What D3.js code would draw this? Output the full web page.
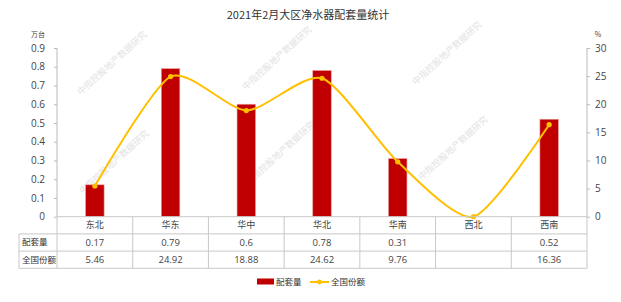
<!DOCTYPE html>
<html>
<head>
<meta charset="utf-8">
<script src="https://cdn.jsdelivr.net/npm/d3@7"></script>
<style>
  body { margin: 0; background: #fff; }
  text { font-family: "Noto Sans CJK SC", "Noto Sans", sans-serif; }
</style>
</head>
<body>
<div id="chart"></div>
<script>
// data
const regions = ["东北", "华东", "华中", "华北", "华南", "西北", "西南"];
const volume = [0.17, 0.79, 0.6, 0.78, 0.31, null, 0.52];   // 万台
const share = [5.46, 24.92, 18.88, 24.62, 9.76, 0, 16.36];   // %
const shareLabels = ["5.46", "24.92", "18.88", "24.62", "9.76", "", "16.36"];
const volumeLabels = ["0.17", "0.79", "0.6", "0.78", "0.31", "", "0.52"];
const leftTicks = [0, 0.1, 0.2, 0.3, 0.4, 0.5, 0.6, 0.7, 0.8, 0.9];
const rightTicks = [0, 5, 10, 15, 20, 25, 30];

const W = 621, H = 302;
const plot = {left: 57, right: 587, top: 48, bottom: 216.7};
const rowH = 17.2;

const svg = d3.select("#chart").append("svg")
  .attr("width", W).attr("height", H);

// scales
const x = d3.scaleBand().domain(regions).range([plot.left, plot.right]);
const yL = d3.scaleLinear().domain([0, 0.9]).range([plot.bottom, plot.top]);
const yR = d3.scaleLinear().domain([0, 30]).range([plot.bottom, plot.top]);

// watermarks
const marks = [[112, 63], [277, 58], [447, 53], [114, 162], [280, 153], [453, 148]];
svg.append("g").selectAll("text").data(marks).join("text")
  .attr("transform", d => `translate(${d[0]},${d[1]}) rotate(-42)`)
  .attr("text-anchor", "middle").attr("dy", "0.35em")
  .attr("font-size", 9).attr("fill", "#e2e2e2")
  .text("中指控股地产数据研究");

// title
svg.append("text")
  .attr("x", 308).attr("y", 19)
  .attr("text-anchor", "middle")
  .attr("font-size", 11).attr("fill", "#333")
  .text("2021年2月大区净水器配套量统计");

// left axis
const axisL = svg.append("g")
  .attr("transform", `translate(${plot.left},0)`)
  .call(d3.axisLeft(yL).tickValues(leftTicks).tickSize(3).tickFormat(d => d === 0 ? "0" : d3.format(".1f")(d)));
axisL.select(".domain").attr("stroke", "#bbb").attr("d", `M0,${plot.top}V${plot.bottom}`);
axisL.selectAll(".tick line").attr("stroke", "#bbb");
axisL.selectAll(".tick text").attr("font-size", 10).attr("fill", "#444").attr("x", -12)
  .style("font-family", "'Open Sans', sans-serif");

// right axis
const axisR = svg.append("g")
  .attr("transform", `translate(${plot.right},0)`)
  .call(d3.axisRight(yR).tickValues(rightTicks).tickSize(3));
axisR.select(".domain").attr("stroke", "#bbb").attr("d", `M0,${plot.top}V${plot.bottom}`);
axisR.selectAll(".tick line").attr("stroke", "#bbb");
axisR.selectAll(".tick text").attr("font-size", 10).attr("fill", "#444").attr("x", 8)
  .style("font-family", "'Open Sans', sans-serif");

// units
svg.append("text").attr("x", 38).attr("y", 37).attr("text-anchor", "middle")
  .attr("font-size", 7).attr("fill", "#444").text("万台");
svg.append("text").attr("x", 598).attr("y", 37).attr("text-anchor", "middle")
  .attr("font-size", 7).attr("fill", "#444").text("%");

// bars
const bw = 18.5;
svg.append("g").selectAll("rect")
  .data(regions.map((r, i) => ({r, v: volume[i]})).filter(d => d.v != null))
  .join("rect")
  .attr("x", d => x(d.r) + x.bandwidth() / 2 - bw / 2)
  .attr("y", d => yL(d.v))
  .attr("width", bw)
  .attr("height", d => yL(0) - yL(d.v))
  .attr("fill", "#C00000")
  .attr("stroke", "#e9a0a0").attr("stroke-width", 0.6);

// share line
const pts = regions.map((r, i) => [x(r) + x.bandwidth() / 2, yR(share[i])]);
svg.append("path")
  .datum(pts)
  .attr("d", d3.line().curve(d3.curveCardinal.tension(0.3)))
  .attr("fill", "none").attr("stroke", "#FFC000").attr("stroke-width", 2);
svg.append("g").selectAll("circle").data(pts).join("circle")
  .attr("cx", d => d[0]).attr("cy", d => d[1]).attr("r", 2.6)
  .attr("fill", "#FFC000");

// data table
const tbl = svg.append("g");
const tLeft = 19, tTop = plot.bottom;
const gridC = "#c8c8c8";
// horizontal lines
[tTop + rowH, tTop + rowH * 2, tTop + rowH * 3].forEach((yy, i) => {
  tbl.append("line")
    .attr("x1", i === 2 || i === 0 ? tLeft : tLeft).attr("x2", plot.right)
    .attr("y1", yy).attr("y2", yy).attr("stroke", gridC);
});
tbl.append("line").attr("x1", plot.left).attr("x2", plot.right)
  .attr("y1", tTop).attr("y2", tTop).attr("stroke", gridC);
// vertical lines
const vx = regions.map(r => x(r)).concat([plot.right]);
vx.forEach(xx => {
  tbl.append("line").attr("x1", xx).attr("x2", xx)
    .attr("y1", tTop).attr("y2", tTop + rowH * 3).attr("stroke", gridC);
});
tbl.append("line").attr("x1", tLeft).attr("x2", tLeft)
  .attr("y1", tTop + rowH).attr("y2", tTop + rowH * 3).attr("stroke", gridC);

const rows = [regions, volumeLabels, shareLabels];
rows.forEach((row, ri) => {
  tbl.append("g").selectAll("text").data(row).join("text")
    .attr("x", (d, i) => x(regions[i]) + x.bandwidth() / 2)
    .attr("y", tTop + rowH * ri + rowH / 2)
    .attr("dy", "0.35em").attr("text-anchor", "middle")
    .attr("font-size", ri === 0 ? 9 : 9.5).attr("fill", "#444")
    .style("font-family", ri === 0 ? null : "'Open Sans', sans-serif")
    .text(d => d);
});
["配套量", "全国份额"].forEach((t, i) => {
  tbl.append("text")
    .attr("x", tLeft + 3).attr("y", tTop + rowH * (i + 1) + rowH / 2)
    .attr("dy", "0.35em").attr("font-size", 8.5).attr("fill", "#333")
    .text(t);
});

// legend
const lg = svg.append("g");
lg.append("rect").attr("x", 257).attr("y", 278.5).attr("width", 17).attr("height", 6)
  .attr("fill", "#C00000");
lg.append("text").attr("x", 276).attr("y", 282).attr("dy", "0.35em")
  .attr("font-size", 8.5).attr("fill", "#333").text("配套量");
lg.append("line").attr("x1", 310).attr("x2", 329).attr("y1", 282).attr("y2", 282)
  .attr("stroke", "#FFC000").attr("stroke-width", 2);
lg.append("circle").attr("cx", 319.5).attr("cy", 282).attr("r", 2.4).attr("fill", "#FFC000");
lg.append("text").attr("x", 331).attr("y", 282).attr("dy", "0.35em")
  .attr("font-size", 8.5).attr("fill", "#333").text("全国份额");
</script>
</body>
</html>
